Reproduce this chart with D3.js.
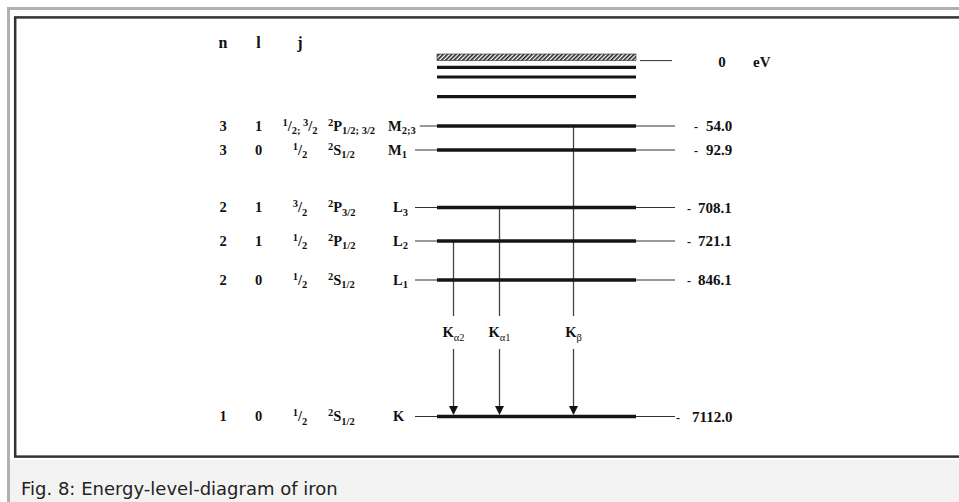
<!DOCTYPE html>
<html><head><meta charset="utf-8">
<script src="https://cdn.jsdelivr.net/npm/d3@7"></script>
<style>
html,body{margin:0;padding:0;background:#fff;}
svg{display:block;}
</style></head><body>
<svg id="c" width="959" height="502"></svg>
<script>
// ---------------- data ----------------
const headers = ["n", "l", "j"];
const shells = ["M2;3", "M1", "L3", "L2", "L1", "K"];
const nValues = [3, 3, 2, 2, 2, 1];
const lValues = [1, 0, 1, 1, 0, 0];
const jValues = ["1/2; 3/2", "1/2", "3/2", "1/2", "1/2", "1/2"];
const termMult = [2, 2, 2, 2, 2, 2];
const termLetters = ["P", "S", "P", "P", "S", "S"];
const termJ = ["1/2; 3/2", "1/2", "3/2", "1/2", "1/2", "1/2"];
const energies = [54.0, 92.9, 708.1, 721.1, 846.1, 7112.0];
const outerBands = ["band1", "band2", "band3"];
const continuumEnergy = 0;
const energyUnit = "eV";
const transitions = ["Kα2", "Kα1", "Kβ"];
const transFrom = ["L2", "L3", "M2;3"];
const transTo = ["K", "K", "K"];
const caption = "Fig. 8: Energy-level-diagram of iron";

// ---------------- layout ----------------
const svg = d3.select("#c");
const serif = "'Liberation Serif', 'DejaVu Serif', serif";
const big = 14.5, small = 10.5;

const levelKeys = ["continuum", ...outerBands, ...shells];
const y = d3.scaleOrdinal().domain(levelKeys)
  .range([57.3, 67.3, 77, 96.7, 126, 150, 207.5, 241, 280, 416.5]);
const col = d3.scaleOrdinal().domain(["n", "l", "j", "term", "shell"])
  .range([223, 258.5, 300, 328, 390]);
const tx = d3.scaleOrdinal().domain(transitions).range([453.5, 499.5, 573.5]);
const bar = {x0: 437, x1: 636, thinL: 415, thinR: 675};

// frame
svg.append("rect").attr("x", 9).attr("y", 460).attr("width", 950).attr("height", 42).attr("fill", "#f3f3f3");
svg.append("path").attr("d", "M8.5,502V8.5H959").attr("fill", "none").attr("stroke", "#b0b0b0").attr("stroke-width", 3);
svg.append("rect").attr("x", 15.2).attr("y", 17.4).attr("width", 1000).attr("height", 439.2)
  .attr("fill", "none").attr("stroke", "#333").attr("stroke-width", 2.5);
svg.append("text").attr("x", 21).attr("y", 495).attr("font-family", "'DejaVu Sans', sans-serif")
  .attr("font-size", 18).attr("fill", "#222").text(caption);

// rich text helper
function rich(sel, pieces) {
  let off = 0;
  pieces.forEach(p => {
    const target = p.s === "sup" ? -5 : p.s === "sub" ? 3.5 : 0;
    const ts = sel.append("tspan").attr("dy", target - off).text(p.t);
    ts.attr("font-size", p.s === "n" ? big : small);
    off = target;
  });
}
function fracPieces(str) {
  const parts = str.split(";").map(s => s.trim());
  const out = [];
  parts.forEach((p, i) => {
    const [a, b] = p.split("/");
    out.push({t: (i > 0 ? " " : "") + a, s: "sup"});
    out.push({t: "/", s: "n"});
    out.push({t: b + (i < parts.length - 1 ? ";" : ""), s: "sub"});
  });
  return out;
}

const g = svg.append("g").attr("font-family", serif).attr("font-weight", "bold").attr("fill", "#111");

// headers
g.selectAll("text.hdr").data(headers).join("text").attr("class", "hdr")
  .attr("x", d => col(d)).attr("y", 48).attr("text-anchor", "middle").attr("font-size", 16).text(d => d);

// hatch pattern
const defs = svg.append("defs");
const pat = defs.append("pattern").attr("id", "hatch").attr("patternUnits", "userSpaceOnUse")
  .attr("width", 3).attr("height", 6).attr("patternTransform", "rotate(45)");
pat.append("rect").attr("width", 3).attr("height", 6).attr("fill", "#fff");
pat.append("rect").attr("width", 1.6).attr("height", 6).attr("fill", "#222");

// continuum
svg.append("rect").attr("x", bar.x0).attr("y", y("continuum") - 3.3).attr("width", bar.x1 - bar.x0).attr("height", 6.6)
  .attr("fill", "url(#hatch)").attr("stroke", "#333").attr("stroke-width", 0.6);
svg.append("line").attr("x1", 640).attr("x2", 672).attr("y1", y("continuum") + 3.3).attr("y2", y("continuum") + 3.3)
  .attr("stroke", "#333").attr("stroke-width", 1);
g.append("text").attr("x", 722).attr("y", y("continuum") + 9.5).attr("text-anchor", "middle").attr("font-size", 15).text(continuumEnergy);
g.append("text").attr("x", 753).attr("y", y("continuum") + 9.5).attr("font-size", 15).text(energyUnit);

// outer bands
svg.selectAll("line.band").data(outerBands).join("line").attr("class", "band")
  .attr("x1", bar.x0).attr("x2", bar.x1).attr("y1", d => y(d)).attr("y2", d => y(d))
  .attr("stroke", "#151515").attr("stroke-width", 3.2);

// levels
const rows = shells.map((s, i) => ({s, n: nValues[i], l: lValues[i], j: jValues[i], m: termMult[i], L: termLetters[i], J: termJ[i], e: energies[i]}));

const lbl = g.selectAll("text.shell").data(rows).join("text").attr("class", "shell")
  .attr("x", d => col("shell") + (d.s[0] === "M" ? -2 : 3)).attr("y", d => y(d.s) + 4.8).attr("font-size", big);
lbl.each(function(d) {
  const parts = d.s.length > 1 ? [{t: d.s[0], s: "n"}, {t: d.s.slice(1), s: "sub"}] : [{t: d.s, s: "n"}];
  rich(d3.select(this), parts);
});
const lblEnd = {};
lbl.each(function(d) { const b = this.getBBox(); lblEnd[d.s] = b.x + b.width; });

svg.selectAll("line.thin").data(rows).join("line").attr("class", "thin")
  .attr("x1", d => Math.max(bar.thinL, lblEnd[d.s] + 4)).attr("x2", bar.thinR)
  .attr("y1", d => y(d.s)).attr("y2", d => y(d.s)).attr("stroke", "#333").attr("stroke-width", 1);

g.selectAll("text.n").data(rows).join("text").attr("class", "n")
  .attr("x", col("n")).attr("y", d => y(d.s) + 4.8).attr("text-anchor", "middle").attr("font-size", big).text(d => d.n);
g.selectAll("text.l").data(rows).join("text").attr("class", "l")
  .attr("x", col("l")).attr("y", d => y(d.s) + 4.8).attr("text-anchor", "middle").attr("font-size", big).text(d => d.l);
g.selectAll("text.j").data(rows).join("text").attr("class", "j")
  .attr("x", col("j")).attr("y", d => y(d.s) + 4.8).attr("text-anchor", "middle").attr("font-size", big)
  .each(function(d) { rich(d3.select(this), fracPieces(d.j)); });
g.selectAll("text.term").data(rows).join("text").attr("class", "term")
  .attr("x", col("term")).attr("y", d => y(d.s) + 4.8).attr("font-size", big)
  .each(function(d) { rich(d3.select(this), [{t: String(d.m), s: "sup"}, {t: d.L, s: "n"}, {t: d.J.replace(/\s+/g, " "), s: "sub"}]); });

// value labels
const fmt = d3.format(".1f");
g.selectAll("text.dash").data(rows).join("text").attr("class", "dash")
  .attr("x", d => d.e < 100 ? 694 : d.e < 1000 ? 687 : 676).attr("y", d => y(d.s) + 5).attr("font-size", 12).text("-");
g.selectAll("text.val").data(rows).join("text").attr("class", "val")
  .attr("x", d => d.e < 100 ? 706 : d.e < 1000 ? 698 : 692).attr("y", d => y(d.s) + 5.2).attr("font-size", 15).text(d => fmt(d.e));

// transitions
const tr = transitions.map((t, i) => ({t, from: transFrom[i], to: transTo[i]}));
const gapTop = 316, gapBot = 349, labelY = 337;
svg.selectAll("line.up").data(tr).join("line").attr("class", "up")
  .attr("x1", d => tx(d.t)).attr("x2", d => tx(d.t)).attr("y1", d => y(d.from)).attr("y2", gapTop)
  .attr("stroke", "#444").attr("stroke-width", 1.3);
svg.selectAll("line.down").data(tr).join("line").attr("class", "down")
  .attr("x1", d => tx(d.t)).attr("x2", d => tx(d.t)).attr("y1", gapBot).attr("y2", d => y(d.to) - 8)
  .attr("stroke", "#444").attr("stroke-width", 1.3);
svg.selectAll("path.head").data(tr).join("path").attr("class", "head")
  .attr("d", d => { const x = tx(d.t), yt = y(d.to) - 1.5; return `M${x},${yt}L${x - 4.5},${yt - 9}L${x + 4.5},${yt - 9}Z`; })
  .attr("fill", "#111");
g.selectAll("text.tl").data(tr).join("text").attr("class", "tl")
  .attr("x", d => tx(d.t)).attr("y", labelY).attr("text-anchor", "middle").attr("font-size", big)
  .each(function(d) {
    const s = d3.select(this);
    s.append("tspan").text(d.t[0]);
    s.append("tspan").attr("dy", 3.5).attr("font-size", small).attr("font-weight", "normal").text(d.t.slice(1));
  });

// shell bars (drawn last to sit on top)
svg.selectAll("line.lvl").data(rows).join("line").attr("class", "lvl")
  .attr("x1", bar.x0).attr("x2", bar.x1).attr("y1", d => y(d.s)).attr("y2", d => y(d.s))
  .attr("stroke", "#151515").attr("stroke-width", 3.4);
</script>
</body></html>
